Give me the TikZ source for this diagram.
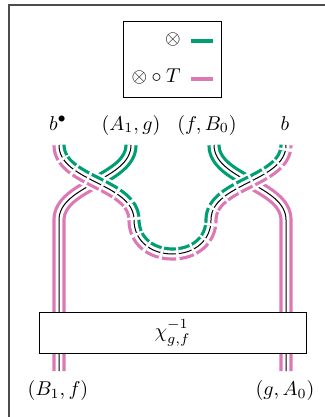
\documentclass[tikz,border=0pt]{standalone}
\usepackage{amsmath,amssymb}
\usepackage{tikz}
\usetikzlibrary{positioning}
\definecolor{bgreen}{HTML}{009E73}
\definecolor{rpink}{HTML}{DC78B6}
\newcommand{\capband}{(59,145) .. controls (59,182) and (134,183) .. (134,220) .. controls (134,240) and (150,254) .. (172.5,254) .. controls (195,254) and (211,240) .. (211,220) .. controls (211,183) and (286,182) .. (286,145)}

\begin{document}
\begin{tikzpicture}[
    x=0.5pt, y=-0.5pt,
    tube/.style={line width=1.6pt, double=white, double distance=3.4pt},
    core/.style={line width=0.5pt, black},
    broken/.style={dash pattern=on 6.5pt off 1.5pt},
    lbl/.style={anchor=base, inner sep=1pt},
    key/.style={line width=1.6pt},
    coupon/.style={draw, rectangle, fill=white, minimum width=133.5pt, minimum height=20.5pt, line width=0.5pt}
]
\useasboundingbox (0,0) rectangle (325,417);

% outer frame
\draw[black!70, line width=0.6pt] (9,5) rectangle (400,500);

% legend
\draw[line width=0.5pt] (123,22) rectangle (221,98);
\node[lbl, anchor=base east] (keyA) at (183,45) {$\otimes$};
\node[lbl, anchor=base east] (keyB) at (183,83) {$\otimes\circ T$};
\coordinate (gA) at (191,41);
\coordinate (gB) at (213,41);
\coordinate (pA) at (191,79);
\coordinate (pB) at (213,79);
\draw[key, bgreen] (gA) -- (gB);
\draw[key, rpink] (pA) -- (pB);

% top labels
\node[lbl] (bdot) at (58,130) {$b^{\bullet}$};
\node[lbl] (Ag) at (131,130) {$(A_1,g)$};
\node[lbl] (fB) at (207,130) {$(f,B_0)$};
\node[lbl] (b) at (285,130) {$b$};

% bottom labels
\node[lbl] (Bf) at (58,395) {$(B_1,f)$};
\node[lbl] (gA0) at (285,395) {$(g,A_0)$};

% strands
\draw[tube, bgreen] (131,145) .. controls (131,162.5) and (113,172.5) .. (95,182.5);
\draw[tube, rpink] (95,182.5) .. controls (77,192.5) and (59,202.5) .. (59,220) -- (59,371);
\draw[core] (131,145) .. controls (131,180) and (59,185) .. (59,220) -- (59,371);

\draw[tube, bgreen] (214,145) .. controls (214,162.5) and (232,172.5) .. (250,182.5);
\draw[tube, rpink] (250,182.5) .. controls (268,192.5) and (286,202.5) .. (286,220) -- (286,371);
\draw[core] (214,145) .. controls (214,180) and (286,185) .. (286,220) -- (286,371);

% dashed cap
\draw[white, line width=9pt] \capband;
\begin{scope}
  \clip (59,100) -- \capband -- (286,100) -- cycle;
  \draw[tube, broken, bgreen] \capband;
\end{scope}
\begin{scope}
  \clip (59,100) -- \capband -- (286,100) -- (340,100) -- (340,430) -- (-10,430) -- (-10,100) -- cycle;
  \draw[tube, broken, rpink] \capband;
\end{scope}
\draw[core, broken] \capband;

% coupon
\node[coupon] (chi) at (172.5,333) {$\chi^{-1}_{g,f}$};

\end{tikzpicture}
\end{document}
